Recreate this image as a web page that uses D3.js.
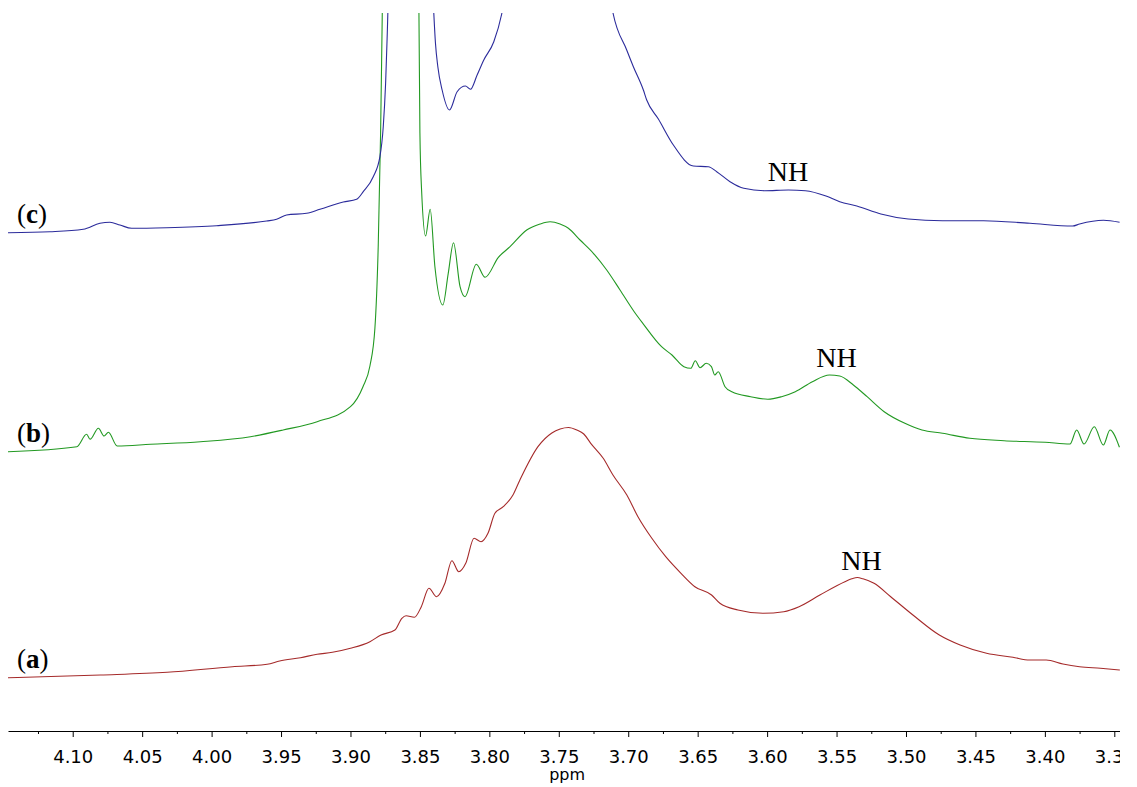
<!DOCTYPE html>
<html><head><meta charset="utf-8">
<script src="https://cdn.jsdelivr.net/npm/d3@7"></script>
<style>html,body{margin:0;padding:0;background:#fff;} svg{display:block;}</style>
</head><body>
<script>
// ---- data: [ppm, intensity (a.u.)] ----
const spectrumA = [[4.147,5.33],[4.080,5.60],[4.032,5.87],[3.985,6.43],[3.960,6.67],[3.951,7.00],[3.936,7.33],[3.924,7.67],[3.913,7.87],[3.900,8.27],[3.886,8.93],[3.878,9.60],[3.868,10.10],[3.863,11.27],[3.860,11.53],[3.854,11.37],[3.849,12.43],[3.8435,14.27],[3.838,13.43],[3.832,14.77],[3.827,17.03],[3.822,15.93],[3.817,16.77],[3.811,19.27],[3.806,18.93],[3.801,19.77],[3.796,21.77],[3.790,22.43],[3.783,23.60],[3.778,25.10],[3.765,28.43],[3.755,29.80],[3.749,30.20],[3.743,30.35],[3.737,30.10],[3.732,29.70],[3.727,28.77],[3.718,27.27],[3.711,25.60],[3.701,23.60],[3.693,21.43],[3.683,19.27],[3.673,17.43],[3.662,15.77],[3.652,14.43],[3.640,13.60],[3.634,12.77],[3.621,12.10],[3.603,11.77],[3.588,11.93],[3.577,12.43],[3.562,13.60],[3.544,14.93],[3.539,15.22],[3.535,15.35],[3.531,15.22],[3.523,14.77],[3.511,13.43],[3.495,11.60],[3.476,9.60],[3.461,8.60],[3.442,7.77],[3.423,7.37],[3.411,7.10],[3.399,7.10],[3.387,6.70],[3.375,6.43],[3.360,6.27],[3.346,6.10]];

const spectrumB = [[4.147,27.93],[4.097,28.43],[4.090,29.67],[4.0875,29.17],[4.0815,30.27],[4.0774,29.50],[4.0743,29.87],[4.068,28.50],[4.044,28.67],[4.008,28.93],[3.972,29.43],[3.9485,30.10],[3.924,30.93],[3.900,32.43],[3.891,34.43],[3.886,36.50],[3.8824,40.30],[3.880,48.60],[3.8783,59.80],[3.8771,71.80],[3.8644,150.0],[3.8507,71.80],[3.850,59.80],[3.8488,54.10],[3.8459,49.50],[3.8426,52.17],[3.8392,46.43],[3.8335,42.60],[3.8296,45.77],[3.8258,48.83],[3.8211,44.43],[3.8175,43.43],[3.8094,46.67],[3.8031,45.37],[3.7935,47.37],[3.7851,48.43],[3.7731,50.10],[3.7635,50.70],[3.7563,50.93],[3.7491,50.70],[3.7431,50.27],[3.7347,49.10],[3.7251,47.77],[3.7155,46.10],[3.7059,44.10],[3.6957,41.93],[3.6895,40.77],[3.676,38.43],[3.6685,37.60],[3.6599,36.43],[3.6549,36.27],[3.6517,37.03],[3.6483,36.33],[3.6438,36.77],[3.6401,36.43],[3.6377,35.60],[3.6352,35.93],[3.6303,34.43],[3.6254,33.93],[3.6118,33.43],[3.5995,33.17],[3.5896,33.43],[3.5797,33.93],[3.5674,34.93],[3.5551,35.60],[3.5477,35.50],[3.5379,34.60],[3.528,33.43],[3.5157,31.93],[3.5008,30.77],[3.4885,30.10],[3.4737,29.77],[3.454,29.27],[3.4294,29.03],[3.3998,28.87],[3.3819,28.70],[3.3771,30.10],[3.3718,28.70],[3.3644,30.43],[3.3579,28.60],[3.3531,30.10],[3.3463,28.37]];

const spectrumC = [[4.147,49.83],[4.1164,49.93],[4.0924,50.17],[4.0804,50.77],[4.0732,50.87],[4.066,50.60],[4.0576,50.27],[4.0324,50.33],[3.9964,50.53],[3.9604,51.00],[3.9532,51.17],[3.946,51.60],[3.9316,51.77],[3.922,52.17],[3.9052,52.90],[3.8956,53.17],[3.8908,53.93],[3.8836,55.43],[3.8788,57.43],[3.8764,60.43],[3.8747,64.77],[3.8735,69.77],[3.8572,200.0],[3.840,71.77],[3.8388,68.77],[3.8371,66.43],[3.834,64.10],[3.8287,62.10],[3.8232,63.93],[3.8172,64.50],[3.8136,64.17],[3.8088,65.60],[3.804,67.10],[3.7968,68.93],[3.7911,71.70],[3.7513,150.0],[3.7108,71.70],[3.7011,68.10],[3.6963,66.43],[3.6891,64.10],[3.6867,63.10],[3.6783,61.20],[3.6675,58.60],[3.6531,56.50],[3.6423,56.43],[3.6363,55.93],[3.6267,54.93],[3.6168,54.27],[3.6019,54.03],[3.5847,54.10],[3.5724,54.03],[3.5576,53.50],[3.5477,52.93],[3.5354,52.50],[3.5181,51.70],[3.4984,51.20],[3.4737,51.03],[3.4441,51.03],[3.4107,50.77],[3.380,50.50],[3.375,50.70],[3.3578,51.07],[3.3462,50.87]];

const traceNames = ["a","b","c"];
const traceColors = ["#a52a2a","#229922","#2b2b9b"];
const nhLabels = [[3.532,16.1],[3.550,36.4],[3.585,55.0]]; // [ppm, intensity] of NH text baseline
const majorTicks = [4.10,4.05,4.00,3.95,3.90,3.85,3.80,3.75,3.70,3.65,3.60,3.55,3.50,3.45,3.40,3.35];
const minorTicks = [4.125,4.075,4.025,3.975,3.925,3.875,3.825,3.775,3.725,3.675,3.625,3.575,3.525,3.475,3.425,3.375];
const xDomain = [4.1466, 3.3459];
const yDomain = [0, 71.8];

// ---- drawing ----
const W = 1137, H = 787;
const plotLeft = 8, plotRight = 1120, plotTop = 13, axisY = 731;
const x = d3.scaleLinear().domain(xDomain).range([plotLeft, plotRight]);
const y = d3.scaleLinear().domain(yDomain).range([axisY, plotTop]);

const svg = d3.select("body").append("svg").attr("width", W).attr("height", H);
const defs = svg.append("defs");
defs.append("clipPath").attr("id","plotclip").append("rect")
  .attr("x", plotLeft).attr("y", plotTop).attr("width", plotRight-plotLeft).attr("height", axisY-plotTop);
defs.append("clipPath").attr("id","axisclip").append("rect")
  .attr("x", 0).attr("y", 0).attr("width", plotRight).attr("height", H);

const line = d3.line().x(d => x(d[0])).y(d => y(d[1])).curve(d3.curveMonotoneX);
const spectra = [spectrumA, spectrumB, spectrumC];

const g = svg.append("g").attr("clip-path","url(#plotclip)");
spectra.forEach((s, i) => {
  g.append("path").datum(s).attr("d", line)
    .attr("fill","none").attr("stroke", traceColors[i]).attr("stroke-width", 1.1)
    .attr("stroke-linejoin","round");
});

// trace labels (a), (b), (c)
spectra.forEach((s, i) => {
  const t = svg.append("text").attr("x", 17).attr("y", y(s[0][1]) - 10)
    .attr("font-family","'Liberation Serif','Times New Roman',serif").attr("font-size", 27).attr("fill","#000");
  t.append("tspan").text("(");
  t.append("tspan").attr("font-weight","bold").text(traceNames[i]);
  t.append("tspan").text(")");
});

// NH labels
svg.selectAll("text.nh").data(nhLabels).enter().append("text").attr("class","nh")
  .attr("x", d => x(d[0])).attr("y", d => y(d[1])).attr("text-anchor","middle")
  .attr("font-family","'Liberation Serif','Times New Roman',serif").attr("font-size", 28).attr("fill","#000")
  .text("NH");

// axis
const axG = svg.append("g").attr("clip-path","url(#axisclip)");
const major = axG.append("g").attr("transform", `translate(0,${axisY})`)
  .call(d3.axisBottom(x).tickValues(majorTicks).tickSize(6).tickSizeOuter(0).tickPadding(13)
    .tickFormat(d3.format(".2f")));
major.select(".domain").attr("stroke","#000").attr("stroke-width",1.2);
major.selectAll(".tick line").attr("stroke","#000");
major.selectAll(".tick text").attr("font-family","'DejaVu Sans',Verdana,sans-serif").attr("font-size",18).attr("fill","#000");
const minor = axG.append("g").attr("transform", `translate(0,${axisY})`)
  .call(d3.axisBottom(x).tickValues(minorTicks).tickSize(3).tickSizeOuter(0).tickFormat(""));
minor.select(".domain").remove();
minor.selectAll(".tick line").attr("stroke","#000");

svg.append("text").attr("x", x(3.744)).attr("y", 780).attr("text-anchor","middle")
  .attr("font-family","'DejaVu Sans',Verdana,sans-serif").attr("font-size",16).attr("fill","#000").text("ppm");
</script>
</body></html>
